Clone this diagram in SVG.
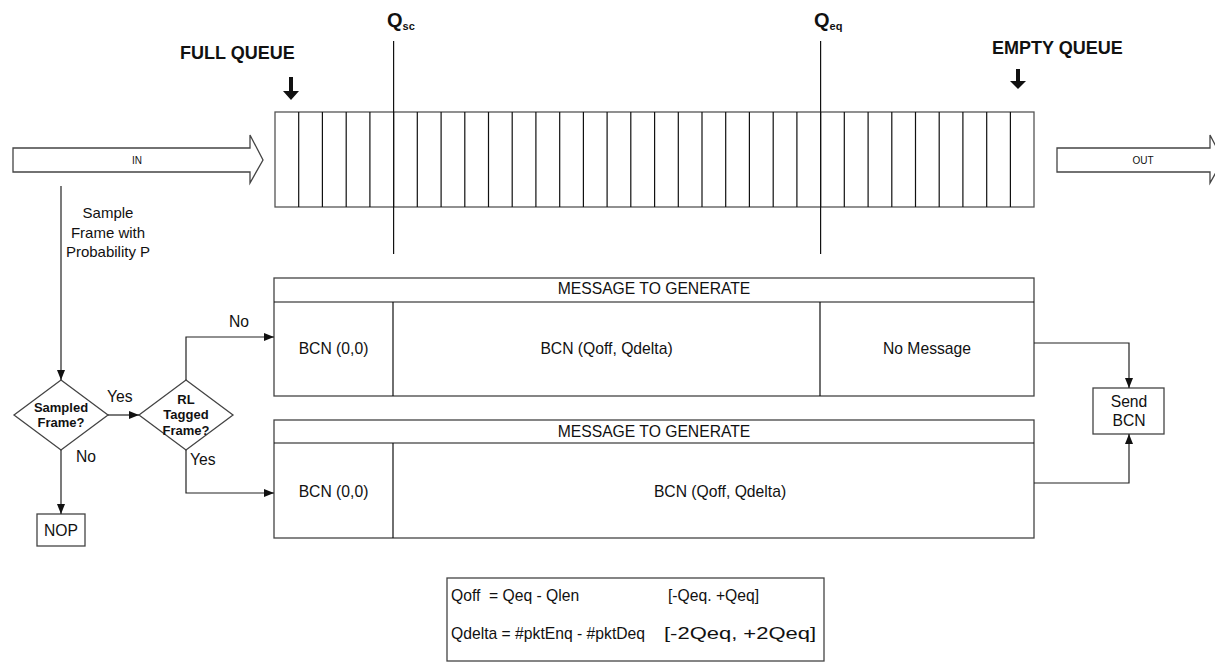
<svg xmlns="http://www.w3.org/2000/svg" width="1215" height="671" viewBox="0 0 1215 671">
<style>
text{font-family:"Liberation Sans",Arial,sans-serif;fill:#111}
.t{font-size:15.7px}
.b{font-weight:bold}
.bl{font-size:18px;font-weight:bold}
.q{font-size:20px;font-weight:bold}
.dt{font-size:13px;font-weight:bold}
.sm{font-size:10px}
.sl{font-size:15px}
.s{fill:#fff;stroke:#444;stroke-width:1.3}
.ln{fill:none;stroke:#111;stroke-width:1.2}
.c{fill:none;stroke:#222;stroke-width:1.2}
</style>
<defs>
<marker id="ah" viewBox="0 0 10 8" refX="10" refY="4" markerWidth="10" markerHeight="8" markerUnits="userSpaceOnUse" orient="auto">
<path d="M0,0 L10,4 L0,8 z" fill="#111"/>
</marker>
</defs>
<rect width="1215" height="671" fill="#fff"/>

<g id="in-arrow">
<polygon class="s" points="13,148 250,148 250,135 263,160 250,183 250,172 13,172"/>
<text class="sm" x="137" y="163.5" text-anchor="middle">IN</text>
</g>
<g id="out-arrow">
<polygon class="s" points="1057,148 1210,148 1210,135 1223,160 1210,183 1210,172 1057,172"/>
<text class="sm" x="1143" y="163.5" text-anchor="middle">OUT</text>
</g>

<g id="queue">
<rect x="275" y="112" width="759" height="95" fill="#fff" stroke="#555" stroke-width="1.3"/>
<path class="ln" d="M298.7,112V207M322.4,112V207M346.2,112V207M369.9,112V207M393.6,112V207M417.3,112V207M441.1,112V207M464.8,112V207M488.5,112V207M512.2,112V207M535.9,112V207M559.7,112V207M583.4,112V207M607.1,112V207M630.8,112V207M654.6,112V207M678.3,112V207M702,112V207M725.7,112V207M749.4,112V207M773.2,112V207M796.9,112V207M820.6,112V207M844.3,112V207M868.1,112V207M891.8,112V207M915.5,112V207M939.2,112V207M962.9,112V207M986.7,112V207M1010.4,112V207"/>
</g>

<g id="qsc">
<line class="ln" x1="393.6" y1="41" x2="393.6" y2="254"/>
<text x="387" y="27"><tspan class="q">Q</tspan><tspan class="b" font-size="11" dy="3">sc</tspan></text>
</g>
<g id="qeq">
<line class="ln" x1="820.6" y1="41" x2="820.6" y2="254"/>
<text x="814" y="27"><tspan class="q">Q</tspan><tspan class="b" font-size="11" dy="3">eq</tspan></text>
</g>

<g id="full-queue">
<text class="bl" x="180" y="59">FULL QUEUE</text>
<path d="M289,77h4v14h6l-8,9l-8,-9h6z" fill="#111"/>
</g>
<g id="empty-queue">
<text class="bl" x="992" y="54">EMPTY QUEUE</text>
<path d="M1016,69h4v12h6l-8,8l-8,-8h6z" fill="#111"/>
</g>

<g id="sample-label">
<text class="sl" x="108" y="218" text-anchor="middle">Sample</text>
<text class="sl" x="108" y="238" text-anchor="middle">Frame with</text>
<text class="sl" x="108" y="257" text-anchor="middle">Probability P</text>
</g>

<g id="sampled-frame">
<polygon class="s" points="61,380 108,415 61,450 14,415"/>
<text class="dt" x="61" y="412" text-anchor="middle">Sampled</text>
<text class="dt" x="61" y="427" text-anchor="middle">Frame?</text>
</g>

<g id="rl-tagged">
<polygon class="s" points="186,380 233,415 186,450 139,415"/>
<text class="dt" x="186" y="404" text-anchor="middle">RL</text>
<text class="dt" x="186" y="419" text-anchor="middle">Tagged</text>
<text class="dt" x="186" y="435" text-anchor="middle">Frame?</text>
</g>

<g id="nop">
<rect class="s" x="37" y="514" width="48" height="32"/>
<text class="t" x="61" y="536" text-anchor="middle">NOP</text>
</g>

<g id="msg-top">
<rect class="s" x="274" y="278" width="760" height="118"/>
<path class="ln" d="M274,302H1034M393,302V396M820,302V396"/>
<text class="t" x="654" y="294" text-anchor="middle">MESSAGE TO GENERATE</text>
<text class="t" x="333.5" y="354" text-anchor="middle">BCN (0,0)</text>
<text class="t" x="606.5" y="354" text-anchor="middle">BCN (Qoff, Qdelta)</text>
<text class="t" x="927" y="354" text-anchor="middle">No Message</text>
</g>

<g id="msg-bottom">
<rect class="s" x="274" y="420" width="760" height="118"/>
<path class="ln" d="M274,443H1034M393,443V538"/>
<text class="t" x="654" y="437" text-anchor="middle">MESSAGE TO GENERATE</text>
<text class="t" x="333.5" y="497" text-anchor="middle">BCN (0,0)</text>
<text class="t" x="720" y="497" text-anchor="middle">BCN (Qoff, Qdelta)</text>
</g>

<g id="send-bcn">
<rect class="s" x="1093" y="388" width="71" height="46"/>
<text class="t" x="1129" y="407" text-anchor="middle">Send</text>
<text class="t" x="1129" y="426" text-anchor="middle">BCN</text>
</g>

<g id="formula">
<rect class="s" x="447" y="578" width="377" height="83"/>
<text class="t" x="451" y="601">Qoff</text>
<text class="t" x="489" y="601">= Qeq - Qlen</text>
<text class="t" x="668" y="601">[-Qeq. +Qeq]</text>
<text class="t" x="451" y="639">Qdelta = #pktEnq - #pktDeq</text>
<text class="t" x="664" y="639" textLength="152" lengthAdjust="spacingAndGlyphs">[-2Qeq, +2Qeq]</text>
</g>

<g id="connectors">
<path class="c" d="M61,186V380" marker-end="url(#ah)"/>
<path class="c" d="M108,415H139" marker-end="url(#ah)"/>
<path class="c" d="M61,450V514" marker-end="url(#ah)"/>
<path class="c" d="M186,380V337H274" marker-end="url(#ah)"/>
<path class="c" d="M186,450V493H274" marker-end="url(#ah)"/>
<path class="c" d="M1034,343H1129V388" marker-end="url(#ah)"/>
<path class="c" d="M1034,483H1129V434" marker-end="url(#ah)"/>
<text class="t" x="107" y="402">Yes</text>
<text class="t" x="229" y="327">No</text>
<text class="t" x="190" y="465">Yes</text>
<text class="t" x="76" y="462">No</text>
</g>
</svg>
